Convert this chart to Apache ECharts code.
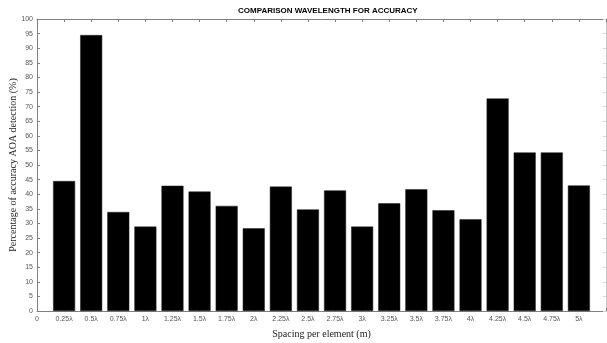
<!DOCTYPE html>
<html>
<head>
<meta charset="utf-8">
<script src="https://cdn.jsdelivr.net/npm/echarts@6/dist/echarts.min.js"></script>
<style>
  html, body { margin: 0; padding: 0; background: #fff; }
  #chart { width: 607px; height: 343px; }
</style>
</head>
<body>
<div id="chart"></div>
<script>
// Element spacings (in wavelengths) and detection accuracy per spacing
const categories = ['0.25λ', '0.5λ', '0.75λ', '1λ', '1.25λ', '1.5λ', '1.75λ', '2λ', '2.25λ', '2.5λ',
                    '2.75λ', '3λ', '3.25λ', '3.5λ', '3.75λ', '4λ', '4.25λ', '4.5λ', '4.75λ', '5λ'];
const accuracy = [44.5, 94.5, 33.9, 28.9, 42.9, 40.9, 36.0, 28.3, 42.6, 34.8,
                  41.3, 28.9, 36.9, 41.7, 34.5, 31.4, 72.8, 54.3, 54.3, 43.0];
const xTickLabels = ['0'].concat(categories);

const axisColor = '#808080';
const labelColor = '#555';

const barData = accuracy.map((v, i) => [i + 1, v]);

const chart = echarts.init(document.getElementById('chart'));

function tickStyle() {
  return { show: true, inside: true, length: 3, lineStyle: { color: axisColor, width: 1 } };
}

chart.setOption({
  animation: false,
  title: {
    text: 'COMPARISON WAVELENGTH FOR ACCURACY',
    left: 233, top: 2,
    textStyle: { fontFamily: 'Liberation Sans', fontSize: 8, fontWeight: 'bold', color: '#000' }
  },
  grid: { left: 37, right: 1, top: 19, bottom: 32, containLabel: false, outerBoundsMode: 'none' },
  xAxis: [
    {
      type: 'value', min: 0, max: 21, interval: 1, position: 'bottom',
      axisLine: { show: true, onZero: false, lineStyle: { color: axisColor, width: 1 } },
      axisTick: tickStyle(),
      splitLine: { show: false },
      name: 'Spacing per element (m)',
      nameLocation: 'middle', nameGap: 18, nameMoveOverlap: false,
      nameTextStyle: { fontFamily: 'Liberation Serif', fontSize: 10, color: '#222' },
      axisLabel: {
        fontFamily: 'Liberation Sans', fontSize: 7, color: labelColor, margin: 5,
        formatter: v => (v >= 0 && v < xTickLabels.length) ? xTickLabels[v] : ''
      }
    },
    {
      type: 'value', min: 0, max: 21, interval: 1, position: 'top',
      axisLine: { show: true, onZero: false, lineStyle: { color: axisColor, width: 1 } },
      axisTick: tickStyle(),
      splitLine: { show: false },
      axisLabel: { show: false }
    }
  ],
  yAxis: [
    {
      type: 'value', min: 0, max: 100, interval: 5, position: 'left',
      axisLine: { show: true, onZero: false, lineStyle: { color: axisColor, width: 1 } },
      axisTick: tickStyle(),
      splitLine: { show: false },
      name: 'Percentage of accuracy AOA detection (%)',
      nameLocation: 'middle', nameGap: 19, nameMoveOverlap: false,
      nameTextStyle: { fontFamily: 'Liberation Serif', fontSize: 10, color: '#222' },
      axisLabel: { fontFamily: 'Liberation Sans', fontSize: 7, color: labelColor, margin: 4 }
    },
    {
      type: 'value', min: 0, max: 100, interval: 5, position: 'right',
      axisLine: { show: true, onZero: false, lineStyle: { color: '#c8c8c8', width: 1 } },
      axisTick: { show: true, inside: true, length: 3, lineStyle: { color: '#d8d8d8' } },
      splitLine: { show: false },
      axisLabel: { show: false }
    }
  ],
  series: [{
    type: 'bar',
    xAxisIndex: 0, yAxisIndex: 0,
    data: barData,
    barWidth: 22,
    itemStyle: { color: '#000', borderColor: '#222', borderWidth: 0.5 }
  }]
});
</script>
</body>
</html>
